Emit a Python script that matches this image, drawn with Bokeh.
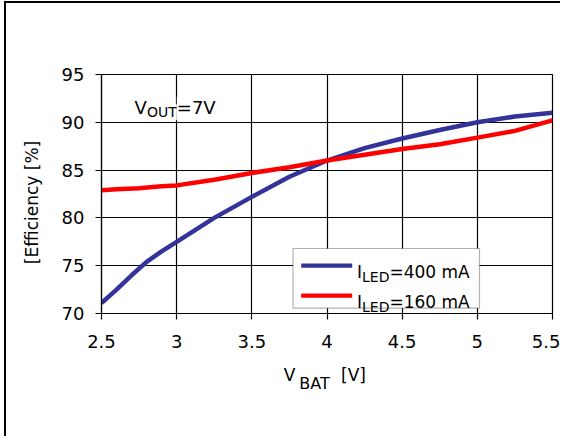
from bokeh.plotting import figure
from bokeh.models import Label, BoxAnnotation, Range1d, FixedTicker, LinearAxis
from bokeh.embed import file_html
from bokeh.resources import INLINE

# ---- data ----
v_bat_400 = [2.5, 2.6, 2.7, 2.8, 2.9, 3.0, 3.25, 3.5, 3.75, 4.0, 4.25, 4.5, 4.75, 5.0, 5.25, 5.5]
eff_400 = [71.1, 72.5, 74.0, 75.4, 76.5, 77.5, 80.0, 82.2, 84.3, 86.0, 87.3, 88.3, 89.2, 90.0, 90.6, 91.0]
v_bat_160 = [2.5, 2.6, 2.75, 2.9, 3.0, 3.25, 3.5, 3.75, 4.0, 4.25, 4.5, 4.75, 5.0, 5.25, 5.5]
eff_160 = [82.9, 83.0, 83.1, 83.3, 83.4, 84.0, 84.7, 85.3, 86.0, 86.6, 87.2, 87.7, 88.4, 89.1, 90.2]
x_ticks = [2.5, 3.0, 3.5, 4.0, 4.5, 5.0, 5.5]
x_tick_labels = ["2.5", "3", "3.5", "4", "4.5", "5", "5.5"]
y_ticks = [70, 75, 80, 85, 90, 95]
y_tick_labels = ["70", "75", "80", "85", "90", "95"]
series_labels = ["=400 mA", "=160 mA"]
y_title = "[Efficiency [%]"

FONT = "DejaVu Sans"
BLUE = "#333399"
RED = "#FF0000"

X0, X1, Y0, Y1 = 2.5, 5.5, 70, 95
# pixel geometry of the plotting frame
FL, FR, FT, FB = 101, 552, 74, 313
W, H = 560, 436


def px2x(px):
    return X0 + (px - FL) * (X1 - X0) / (FR - FL)


def px2y(py):
    return Y0 + (FB - py) * (Y1 - Y0) / (FB - FT)


p = figure(width=W, height=H, output_backend="svg", toolbar_location=None,
           x_range=Range1d(X0, X1), y_range=Range1d(Y0, Y1),
           min_border_left=FL, min_border_right=W - FR, min_border_top=FT,
           min_border_bottom=H - FB)
p.background_fill_color = "white"
p.border_fill_alpha = 0
# outer frame of the figure: thick left and top edges
p.styles = {
    "background-image": "linear-gradient(black, black), linear-gradient(black, black)",
    "background-position": "4px 1px, 4px 1px",
    "background-size": "2px 100%, 100% 2px",
    "background-repeat": "no-repeat",
}
p.outline_line_color = "black"
p.outline_line_width = 1.2

p.xaxis.ticker = FixedTicker(ticks=x_ticks)
p.yaxis.ticker = FixedTicker(ticks=y_ticks)
p.xaxis.major_label_overrides = {t: l for t, l in zip(x_ticks, x_tick_labels)}
p.yaxis.major_label_overrides = {t: l for t, l in zip(y_ticks, y_tick_labels)}
for ax in (p.xaxis, p.yaxis):
    ax.major_label_text_font = FONT
    ax.major_label_text_font_size = "18px"
    ax.major_label_text_color = "black"
    ax.major_tick_in = 0
    ax.major_tick_out = 6
    ax.minor_tick_out = 0
    ax.minor_tick_in = 0
    ax.axis_line_color = "black"
    ax.axis_line_width = 1.2
    ax.major_tick_line_color = "black"
    ax.major_tick_line_width = 1.2
p.yaxis.major_label_standoff = 11
p.xaxis.major_label_standoff = 15

p.grid.grid_line_color = "black"
p.grid.grid_line_width = 1.2
p.grid.grid_line_alpha = 1.0

p.line(v_bat_400, eff_400, line_color=BLUE, line_width=4.5, line_join="round")
p.line(v_bat_160, eff_160, line_color=RED, line_width=4.5, line_join="round")


# axis titles built from label-only axes (allows the subscript in V_BAT)
def text_axis(side, ticks, labels, size, standoff, orientation="horizontal"):
    ax = LinearAxis(ticker=FixedTicker(ticks=ticks),
                    major_label_overrides={t: l for t, l in zip(ticks, labels)},
                    major_label_text_font=FONT, major_label_text_font_size=size,
                    major_label_text_color="black", major_label_standoff=standoff,
                    major_label_orientation=orientation,
                    axis_line_color=None, major_tick_line_color=None,
                    minor_tick_line_color=None, major_tick_out=0, major_tick_in=0,
                    minor_tick_out=0, minor_tick_in=0)
    p.add_layout(ax, side)
    return ax


text_axis("below", [px2x(289), px2x(353)], ["V", "[V]"], "17px", 14)
text_axis("below", [px2x(314)], ["BAT"], "16px", -14)
text_axis("left", [px2y(202)], [y_title], "17px", 17, orientation="vertical")


def txt(s, px, py, size, **kw):
    p.add_layout(Label(x=px2x(px), y=px2y(py), text=s, text_font=FONT,
                       text_font_size=size, text_color="black",
                       text_baseline="alphabetic", text_align="left", **kw))


# V_OUT=7V note
for s, px, py, sz in [("V", 134, 106.7, "18px"), ("OUT", 146.5, 111.7, "14px"), ("=7V", 176.3, 106.7, "18px")]:
    txt(s, px, py, sz, background_fill_color="white")

# legend
p.add_layout(BoxAnnotation(left=px2x(292.5), right=px2x(479), top=px2y(248), bottom=px2y(307.7),
                           fill_color="white", fill_alpha=1, line_color="black", line_width=1.2))
for row, (color, label) in enumerate(zip([BLUE, RED], series_labels)):
    base = 271.7 + 30 * row
    p.add_layout(BoxAnnotation(left=px2x(300.7), right=px2x(351.7),
                               top=px2y(base - 8.7), bottom=px2y(base - 4.4),
                               fill_color=color, fill_alpha=1, line_alpha=0))
    txt("I", 356.5, base, "17px")
    txt("LED", 361.5, base + 5, "14px")
    txt(label, 388.9, base, "17px")

open("out.html", "w").write(file_html(p, INLINE))
